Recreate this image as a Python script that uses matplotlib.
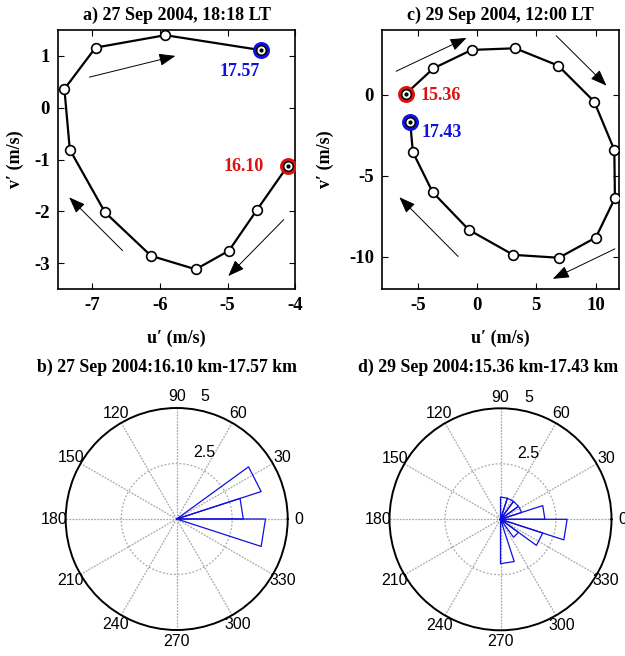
import numpy as np
import matplotlib
matplotlib.use('Agg')
import matplotlib.pyplot as plt

plt.rcParams['font.family'] = ['Liberation Serif', 'DejaVu Serif']
plt.rcParams['font.weight'] = 'bold'
plt.rcParams['axes.labelweight'] = 'bold'
plt.rcParams['axes.unicode_minus'] = False

# hodograph a) 27 Sep 2004, 16.10 km -> 17.57 km
u_a = [-4.11, -4.57, -4.98, -5.47, -6.13, -6.81, -7.33, -7.41, -6.95, -5.92, -4.50]
v_a = [-1.12, -1.98, -2.76, -3.12, -2.86, -2.02, -0.81, 0.36, 1.16, 1.40, 1.11]
arrows_a = [((-7.04, 0.59), (-5.77, 1.00)),
            ((-6.55, -2.76), (-7.34, -1.73)),
            ((-4.17, -2.16), (-4.99, -3.25))]

# hodograph c) 29 Sep 2004, 15.36 km -> 17.43 km
u_c = [-6.02, -3.69, -0.46, 3.22, 6.84, 9.88, 11.58, 11.63, 10.02, 6.90, 3.05, -0.69, -3.75, -5.42, -5.65]
v_c = [0.05, 1.63, 2.77, 2.87, 1.80, -0.42, -3.41, -6.39, -8.82, -10.07, -9.89, -8.35, -6.02, -3.55, -1.66]
arrows_c = [((-6.84, 1.45), (-0.89, 3.51)),
            ((6.67, 3.65), (10.92, 0.56)),
            ((11.63, -9.52), (6.39, -11.37)),
            ((-1.60, -9.99), (-6.56, -6.33))]

# rose histograms: bin start angle (deg, 18 deg bins) and counts
bins_b = [342, 0, 18]
counts_b = [4, 3, 4]
bins_d = [0, 18, 36, 54, 72, 270, 306, 324, 342]
counts_d = [2, 1, 1, 1, 1, 2, 1, 2, 3]

fig = plt.figure(figsize=(6.25, 6.56), dpi=100)

W, H = 625.0, 656.0
blue = '#1010e0'
red = '#e01010'


def hodo(rect, u, v, arrows, xlim, ylim, xt, yt, title, lab_start, lab_end, ylab_x):
    ax = fig.add_axes(rect)
    ax.plot(u, v, color='k', lw=1.6, zorder=2)
    ax.plot(u[0], v[0], 'o', ms=10, mfc='none', mec=red, mew=2.2, zorder=3)
    ax.plot(u[-1], v[-1], 'o', ms=10, mfc='none', mec=blue, mew=2.2, zorder=3)
    ax.plot(u, v, 'o', ms=7, mfc='white', mec='k', mew=1.2, zorder=4)
    ax.plot([u[0], u[-1]], [v[0], v[-1]], 'o', ms=2, color='k', zorder=5)
    for (x0, y0), (x1, y1) in arrows:
        ax.annotate('', xy=(x1, y1), xytext=(x0, y0),
                    arrowprops=dict(arrowstyle='-|>,head_length=1.0,head_width=0.38',
                                    lw=0.7, color='k', mutation_scale=10,
                                    shrinkA=0, shrinkB=0))
    ax.text(lab_start[0], lab_start[1], lab_start[2], color=red, fontsize=13,
            ha=lab_start[3], va='center')
    ax.text(lab_end[0], lab_end[1], lab_end[2], color=blue, fontsize=13,
            ha=lab_end[3], va='center')
    ax.set_xlim(xlim)
    ax.set_ylim(ylim)
    ax.set_xticks(xt)
    ax.set_yticks(yt)
    ax.tick_params(direction='in', top=True, right=True, length=4, width=0.8,
                   labelsize=13.5, pad=6)
    for s in ax.spines.values():
        s.set_linewidth(1.2)
    ax.set_title(title, fontsize=13, fontweight='bold', pad=7)
    ax.set_xlabel('u\u2032 (m/s)', fontsize=13, fontweight='bold')
    ax.set_ylabel('v\u2032 (m/s)', fontsize=13, fontweight='bold')
    ax.xaxis.set_label_coords(0.5, -0.158)
    ax.yaxis.set_label_coords(ylab_x, 0.5)
    return ax


hodo([58.3 / W, 1 - 289 / H, 237 / W, 259 / H], u_a, v_a, arrows_a,
     (-7.5, -4), (-3.5, 1.5), [-7, -6, -5, -4], [-3, -2, -1, 0, 1],
     'a) 27 Sep 2004, 18:18 LT',
     (-4.77, -1.13, '16.10', 'center'), (-4.82, 0.69, '17.57', 'center'), -0.145)

hodo([382.3 / W, 1 - 289 / H, 237 / W, 259 / H], u_c, v_c, arrows_c,
     (-8, 12), (-12, 4), [-5, 0, 5, 10], [-10, -5, 0],
     'c) 29 Sep 2004, 12:00 LT',
     (-4.8, -0.05, '15.36', 'left'), (-4.66, -2.32, '17.43', 'left'), -0.204)


def rose(cx, cy, bins, counts, title, tx):
    R = 111.0
    ax = fig.add_axes([(cx - R) / W, 1 - (cy + R) / H, 2 * R / W, 2 * R / H],
                      projection='polar')
    ax.set_ylim(0, 5)
    ax.grid(False)
    ax.set_xticks([])
    ax.set_yticks([])
    ax.spines['polar'].set_linewidth(1.4)
    t = np.linspace(0, 2 * np.pi, 300)
    ax.plot(t, np.full_like(t, 2.5), color='#a8a8a8', lw=0.9, ls=(0, (1.5, 1.5)))
    for a in range(0, 360, 30):
        ax.plot([np.deg2rad(a)] * 2, [0, 5], color='#a8a8a8', lw=0.9, ls=(0, (1.5, 1.0)))
        ax.text(np.deg2rad(a), 5.5, str(a), family='Liberation Sans', fontweight='normal',
                fontsize=11.5, ha='center', va='center', clip_on=False)
    ax.text(np.deg2rad(67.6), 3.23, '2.5', family='Liberation Sans', fontweight='normal',
            fontsize=11.5, ha='center', va='center')
    ax.text(np.deg2rad(77), 5.65, '5', family='Liberation Sans', fontweight='normal',
            fontsize=11.5, ha='center', va='center', clip_on=False)
    for b, c in zip(bins, counts):
        th = np.deg2rad([b, b, b + 18, b + 18])
        ax.plot(th, [0, c, c, 0], color=blue, lw=0.9)
    fig.text(tx / W, 1 - 367 / H, title, fontsize=12.8, fontweight='bold',
             ha='center', va='center')
    return ax


rose(176.7, 519.0, bins_b, counts_b, 'b) 27 Sep 2004:16.10 km-17.57 km', 167)
rose(500.5, 519.3, bins_d, counts_d, 'd) 29 Sep 2004:15.36 km-17.43 km', 488)

fig.savefig('out.png', dpi=100)
